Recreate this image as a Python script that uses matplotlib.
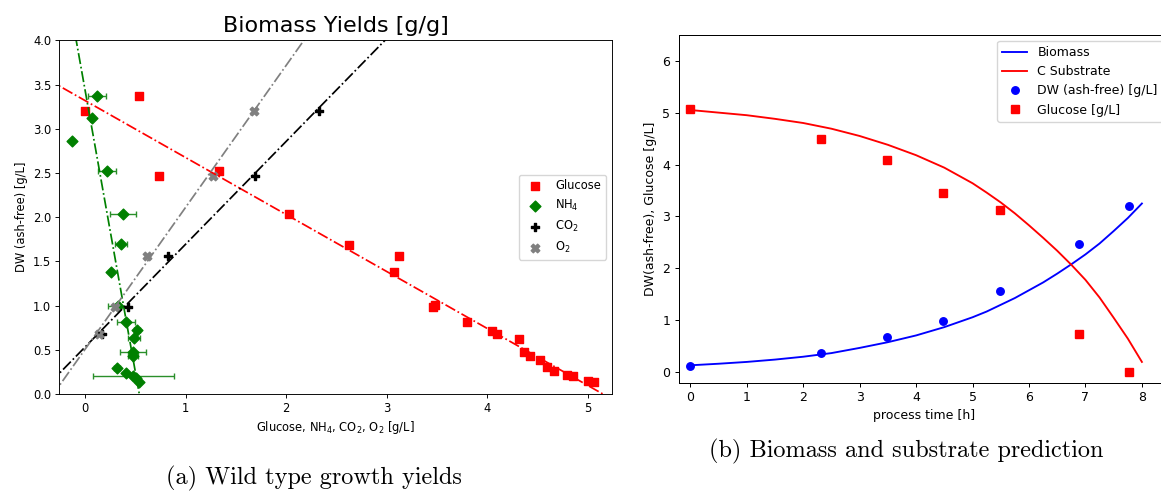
import numpy as np
import matplotlib
matplotlib.use("Agg")
import matplotlib.pyplot as plt

# ---------------- yield data (panel a) ----------------
glucose_x = [0.00, 0.54, 0.74, 1.33, 2.03, 2.62, 3.07, 3.12, 3.46, 3.48, 3.80, 4.05,
             4.10, 4.31, 4.36, 4.42, 4.52, 4.59, 4.66, 4.79, 4.85, 5.00, 5.06]
glucose_y = [3.20, 3.37, 2.47, 2.52, 2.04, 1.69, 1.38, 1.56, 0.98, 1.01, 0.82, 0.71,
             0.68, 0.62, 0.47, 0.43, 0.38, 0.30, 0.26, 0.21, 0.20, 0.15, 0.14]

nh4_x = [0.12, 0.07, -0.13, 0.22, 0.38, 0.36, 0.26, 0.33, 0.41, 0.52, 0.49, 0.48,
         0.48, 0.32, 0.41, 0.48, 0.51, 0.54]
nh4_y = [3.37, 3.12, 2.86, 2.52, 2.04, 1.70, 1.38, 1.00, 0.81, 0.72, 0.63, 0.47,
         0.43, 0.29, 0.24, 0.20, 0.18, 0.14]
nh4_xerr = [0.09, 0.00, 0.00, 0.09, 0.13, 0.06, 0.00, 0.10, 0.09, 0.03, 0.06, 0.13,
            0.05, 0.03, 0.02, 0.40, 0.00, 0.00]

co2_x = [2.33, 1.69, 0.83, 0.43, 0.17]
co2_y = [3.20, 2.47, 1.56, 0.98, 0.68]

o2_x = [1.68, 1.27, 0.62, 0.30, 0.14]
o2_y = [3.20, 2.47, 1.56, 0.98, 0.68]

# linear fits: DW = intercept + slope * concentration
fit_glucose = (3.32, -0.645)
fit_nh4 = (3.445, -6.38)
fit_co2 = (0.53, 1.164)
fit_o2 = (0.504, 1.607)

# ---------------- batch time course (panel b) ----------------
time_h = [0.0, 2.32, 3.49, 4.47, 5.48, 6.88, 7.78]
dw_measured = [0.13, 0.38, 0.68, 0.98, 1.57, 2.47, 3.20]
glucose_measured = [5.06, 4.50, 4.09, 3.45, 3.12, 0.73, 0.00]

model_time = [0.0, 0.5, 1.0, 1.5, 2.0, 2.5, 3.0, 3.5, 4.0, 4.5, 5.0, 5.25, 5.5, 5.75,
              6.0, 6.25, 6.5, 6.75, 7.0, 7.25, 7.5, 7.75, 8.0]
model_biomass = [0.135, 0.165, 0.20, 0.245, 0.30, 0.37, 0.47, 0.58, 0.71, 0.87,
                 1.06, 1.17, 1.30, 1.43, 1.58, 1.73, 1.90, 2.08, 2.27, 2.48, 2.72,
                 2.97, 3.25]
model_substrate = [5.05, 5.00, 4.95, 4.88, 4.80, 4.69, 4.55, 4.38, 4.18, 3.94,
                   3.64, 3.46, 3.27, 3.06, 2.83, 2.59, 2.34, 2.07, 1.78, 1.44, 1.05,
                   0.65, 0.20]

W, H = 1161, 492
fig = plt.figure(figsize=(W / 100, H / 100), dpi=100)


def box(left, right, top, bottom):
    return [left / W, 1 - bottom / H, (right - left) / W, (bottom - top) / H]


# ---------------- panel a ----------------
s1 = 0.83
fs1 = 10 * s1
ax1 = fig.add_axes(box(59.3, 611.7, 40.4, 394))
ms = 30

xfit = np.array([-1.0, 6.0])
ax1.scatter(glucose_x, glucose_y, marker="s", s=ms, color="r", label="Glucose", zorder=2)
ax1.errorbar(nh4_x, nh4_y, xerr=nh4_xerr, fmt="none", ecolor="#2a8f2a", elinewidth=1.0,
             capsize=2, capthick=1.0, zorder=1.5)
ax1.scatter(nh4_x, nh4_y, marker="D", s=ms, color="g", label="NH$_4$", zorder=2)
ax1.scatter(co2_x, co2_y, marker="P", s=ms + 8, color="k", label="CO$_2$", zorder=2)
ax1.scatter(o2_x, o2_y, marker="X", s=ms + 8, color="grey", label="O$_2$", zorder=2)

lw1 = 1.5 * s1
for (b0, b1), col in [(fit_glucose, "r"), (fit_nh4, "g"), (fit_co2, "k"), (fit_o2, "grey")]:
    ax1.plot(xfit, b0 + b1 * xfit, linestyle="-.", color=col, linewidth=lw1, zorder=2.5)

ax1.set_xlim(-0.255, 5.235)
ax1.set_ylim(0.0, 4.0)
ax1.set_xticks([0, 1, 2, 3, 4, 5])
ax1.set_yticks(np.arange(0, 4.01, 0.5))
ax1.tick_params(labelsize=fs1, length=3.5 * s1, pad=3.5 * s1, width=0.8 * s1)
for sp in ax1.spines.values():
    sp.set_linewidth(0.8 * s1)
ax1.set_xlabel("Glucose, NH$_4$, CO$_2$, O$_2$ [g/L]", fontsize=fs1, labelpad=3 * s1)
ax1.set_ylabel("DW (ash-free) [g/L]", fontsize=fs1, labelpad=4 * s1)
ax1.set_title("Biomass Yields [g/g]", fontsize=16, pad=6)
ax1.legend(loc="center right", fontsize=fs1, scatterpoints=1)

# ---------------- panel b ----------------
s2 = 0.9
fs2 = 10 * s2
ax2 = fig.add_axes(box(679, 1169, 34.7, 382.7))
ax2.plot(model_time, model_biomass, color="b", linewidth=1.5 * s2, label="Biomass")
ax2.plot(model_time, model_substrate, color="r", linewidth=1.5 * s2, label="C Substrate")
ax2.plot(time_h, dw_measured, "o", color="b", markersize=6 * s2, label="DW (ash-free) [g/L]")
ax2.plot(time_h, glucose_measured, "s", color="r", markersize=6 * s2, label="Glucose [g/L]")
ax2.set_xlim(-0.2, 8.48)
ax2.set_ylim(-0.2, 6.5)
ax2.set_xticks(range(0, 9))
ax2.set_yticks(range(0, 7))
ax2.tick_params(labelsize=fs2, length=3.5 * s2, pad=3.5 * s2, width=0.8 * s2)
for sp in ax2.spines.values():
    sp.set_linewidth(0.8 * s2)
ax2.set_xlabel("process time [h]", fontsize=fs2, labelpad=4 * s2)
ax2.set_ylabel("DW(ash-free), Glucose [g/L]", fontsize=fs2, labelpad=4 * s2)
ax2.legend(loc="upper right", fontsize=fs2)

# ---------------- captions ----------------
fig.text(314 / W, 1 - 478 / H, "(a) Wild type growth yields", family="cmr10",
         fontsize=17.5, ha="center", va="center")
fig.text(906 / W, 1 - 451 / H, "(b) Biomass and substrate prediction", family="cmr10",
         fontsize=17.5, ha="center", va="center")

fig.savefig("out.png", dpi=100)
